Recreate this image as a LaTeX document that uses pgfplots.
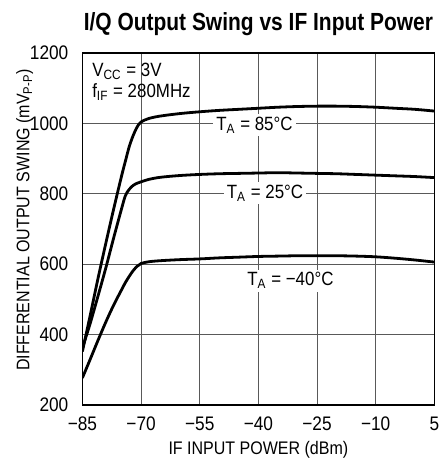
\documentclass[border=0pt]{standalone}
\usepackage{fontspec}
\setmainfont{Liberation Sans}[FakeStretch=0.88]
\newfontfamily\titlefont{Liberation Sans}[FakeStretch=0.845,UprightFont=* Bold]
\usepackage{pgfplots}
\pgfplotsset{compat=1.18}
\begin{document}
\begin{tikzpicture}
\path[use as bounding box] (-41.2pt,-28pt) rectangle (179.5pt,202.5pt);
\begin{axis}[
  at={(0,0)}, anchor=south west,
  scale only axis,
  width=176pt, height=176pt,
  xmin=-85, xmax=5, ymin=200, ymax=1200,
  xtick={-85,-70,-55,-40,-25,-10,5},
  xticklabels={−85,−70,−55,−40,−25,−10,5},
  ytick={200,400,600,800,1000,1200},
  /pgf/number format/assume math mode=true,
  /pgf/number format/set thousands separator={},
  tick label style={font=\fontsize{9.8}{10}\selectfont},
  yticklabel style={xshift=-3.5pt},
  xticklabel style={yshift=-2.5pt},
  major tick length=0pt,
  grid=major,
  major grid style={black!65, line width=0.45pt},
  axis line style={black, line width=0.8pt},
  title={\titlefont\fontsize{12.4}{14}\selectfont I/Q Output Swing vs IF Input Power},
  title style={yshift=-1pt},
  xlabel={IF INPUT POWER (dBm)},
  ylabel={DIFFERENTIAL OUTPUT SWING (mV\textsubscript{P-P})},
  xlabel style={font=\fontsize{9.1}{10}\selectfont, yshift=1.5pt},
  ylabel style={font=\fontsize{9.1}{10}\selectfont, yshift=-8.5pt, xshift=4.5pt},
  clip=true,
]
% T_A = 85C
\addplot[black, line width=1.4pt, smooth, tension=0.5] coordinates {(-85,352) (-83,455) (-81,560) (-79,660) (-77,757) (-75,850) (-74,893) (-73,935) (-72,966) (-71,990) (-70,1004) (-68,1014) (-65,1021) (-60,1028) (-55,1033) (-50,1037) (-45,1040) (-40,1043) (-35,1046) (-30,1048) (-25,1049) (-20,1049) (-15,1048) (-10,1046) (-5,1043) (0,1040) (5,1035)};
% T_A = 25C
\addplot[black, line width=1.4pt, smooth, tension=0.5] coordinates {(-85,362) (-83,432) (-81,510) (-79,590) (-77,675) (-75,757) (-74,795) (-73,813) (-72,824) (-71,830) (-70,834) (-68,841) (-65,847) (-60,852) (-55,855) (-50,857) (-45,858) (-40,859) (-35,860) (-30,859) (-25,858) (-20,857) (-15,855) (-10,853) (-5,851) (0,849) (5,846)};
% T_A = -40C
\addplot[black, line width=1.4pt, smooth, tension=0.5] coordinates {(-85,277) (-83,330) (-81,384) (-79,436) (-77,484) (-75,527) (-74,548) (-73,566) (-72,582) (-71,594) (-70,602) (-68,607) (-65,610) (-60,613) (-55,615) (-50,618) (-45,620) (-40,622) (-35,623) (-30,624) (-25,624) (-20,624) (-15,623) (-10,621) (-5,617) (0,612) (5,606)};
\node[fill=white, inner sep=1.5pt, font=\fontsize{9.6}{10}\selectfont] at (axis cs:-41,995) {T\textsubscript{A} = 85°C};
\node[fill=white, inner sep=1.5pt, font=\fontsize{9.6}{10}\selectfont] at (axis cs:-38.3,802) {T\textsubscript{A} = 25°C};
\node[fill=white, inner sep=1.5pt, font=\fontsize{9.6}{10}\selectfont] at (axis cs:-31.8,553) {T\textsubscript{A} = −40°C};
\node[anchor=north west, align=left, inner sep=0pt, font=\fontsize{9.6}{10.5}\selectfont] at (rel axis cs:0.027,0.972) {V\textsubscript{CC} = 3V\\f\textsubscript{IF} = 280MHz};
\end{axis}
\end{tikzpicture}
\end{document}
